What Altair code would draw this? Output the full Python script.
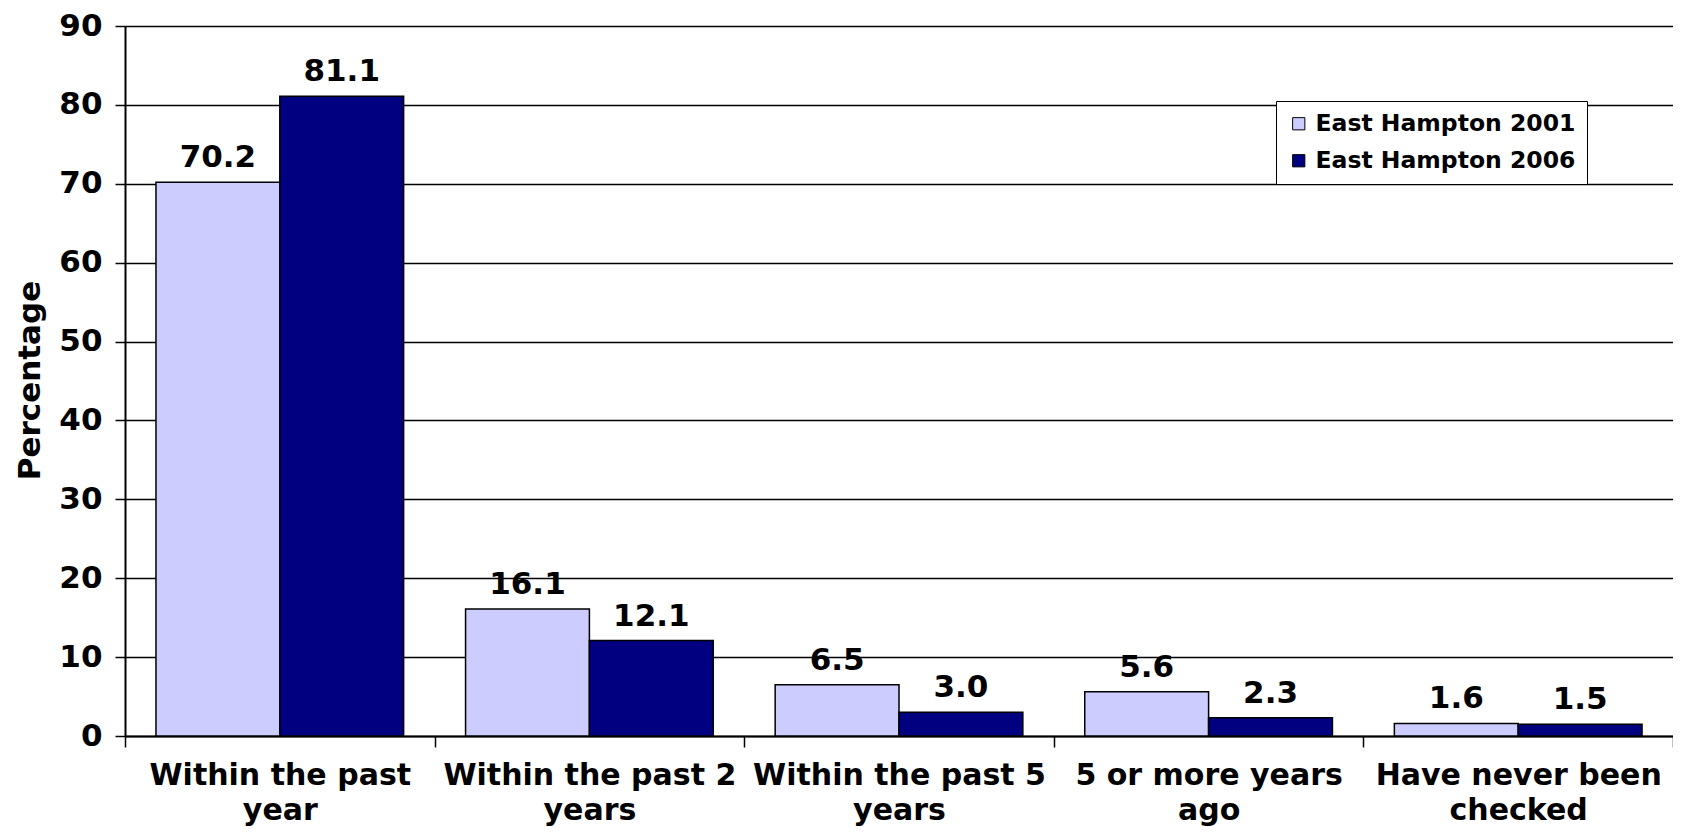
import json
import altair as alt
import pandas as pd

categories = [
    "Within the past year",
    "Within the past 2 years",
    "Within the past 5 years",
    "5 or more years ago",
    "Have never been checked",
]
label_lines = [
    ["Within the past", "year"],
    ["Within the past 2", "years"],
    ["Within the past 5", "years"],
    ["5 or more years", "ago"],
    ["Have never been", "checked"],
]
series = ["East Hampton 2001", "East Hampton 2006"]
values_2001 = [70.2, 16.1, 6.5, 5.6, 1.6]
values_2006 = [81.1, 12.1, 3.0, 2.3, 1.5]
colors = ["#CCCCFF", "#000080"]
y_ticks = [0, 10, 20, 30, 40, 50, 60, 70, 80, 90]

rows = []
for c, a, b in zip(categories, values_2001, values_2006):
    rows.append({"category": c, "series": series[0], "value": a})
    rows.append({"category": c, "series": series[1], "value": b})
df = pd.DataFrame(rows)

label_expr = "datum.value"
for c, lines in reversed(list(zip(categories, label_lines))):
    label_expr = f"datum.value === {json.dumps(c)} ? {json.dumps(lines)} : ({label_expr})"

FONT = "DejaVu Sans"

x_scale = alt.Scale(paddingInner=0, paddingOuter=0)
off_scale = alt.Scale(paddingInner=0, paddingOuter=0.25)

x_enc = alt.X(
    "category:N",
    sort=categories,
    scale=x_scale,
    axis=alt.Axis(
        title=None,
        labelAngle=0,
        tickBand="extent",
        labelExpr=label_expr,
        labelFont=FONT,
        labelFontSize=30,
        labelFontWeight="bold",
        labelLineHeight=35,
        labelPadding=13,
        labelColor="black",
        labelLimit=0,
        tickSize=11,
        tickWidth=1.5,
        tickColor="black",
        domainColor="black",
        domainWidth=2,
        grid=False,
    ),
)
xoff = alt.XOffset("series:N", sort=series, scale=off_scale)
y_enc = alt.Y(
    "value:Q",
    scale=alt.Scale(domain=[0, 90], nice=False),
    axis=alt.Axis(
        values=y_ticks,
        title="Percentage",
        titleFont=FONT,
        titleFontSize=31,
        titleFontWeight="bold",
        titleColor="black",
        titleX=-95,
        titleY=354,
        titleBaseline="middle",
        labelFont=FONT,
        labelFontSize=31,
        labelFontWeight="bold",
        labelColor="black",
        labelPadding=13,
        tickSize=10,
        tickWidth=1.5,
        tickColor="black",
        domainColor="black",
        domainWidth=2,
        grid=True,
        gridColor="black",
        gridWidth=1.5,
        gridOpacity=1,
    ),
)

bars = alt.Chart(df).mark_bar(stroke="black", strokeWidth=1.5).encode(
    x=x_enc,
    xOffset=xoff,
    y=y_enc,
    color=alt.Color(
        "series:N",
        scale=alt.Scale(domain=series, range=colors),
        legend=alt.Legend(
            title=None,
            orient="none",
            legendX=1151,
            legendY=75,
            fillColor="white",
            strokeColor="black",
            padding=11,
            symbolType="square",
            symbolSize=150,
            symbolStrokeColor="black",
            symbolStrokeWidth=1,
            labelFont=FONT,
            labelFontSize=23.5,
            labelFontWeight="bold",
            labelColor="black",
            labelOffset=5,
            labelLimit=400,
            rowPadding=12,
        ),
    ),
)

labels = alt.Chart(df).mark_text(
    dy=-15, baseline="alphabetic", font=FONT, fontSize=31, fontWeight="bold", color="black"
).encode(
    x=alt.X("category:N", sort=categories, scale=x_scale),
    xOffset=alt.XOffset("series:N", sort=series, scale=off_scale),
    y=alt.Y("value:Q"),
    text=alt.Text("value:Q", format=".1f"),
)

chart = (
    alt.layer(bars, labels)
    .properties(
        width=1548,
        height=710,
        autosize=alt.AutoSizeParams(type="none"),
        padding={"left": 117, "top": 18, "right": 0, "bottom": 92},
    )
    .configure_view(stroke=None)
)

chart.save("out.html", embed_options={"renderer": "svg", "actions": False})
